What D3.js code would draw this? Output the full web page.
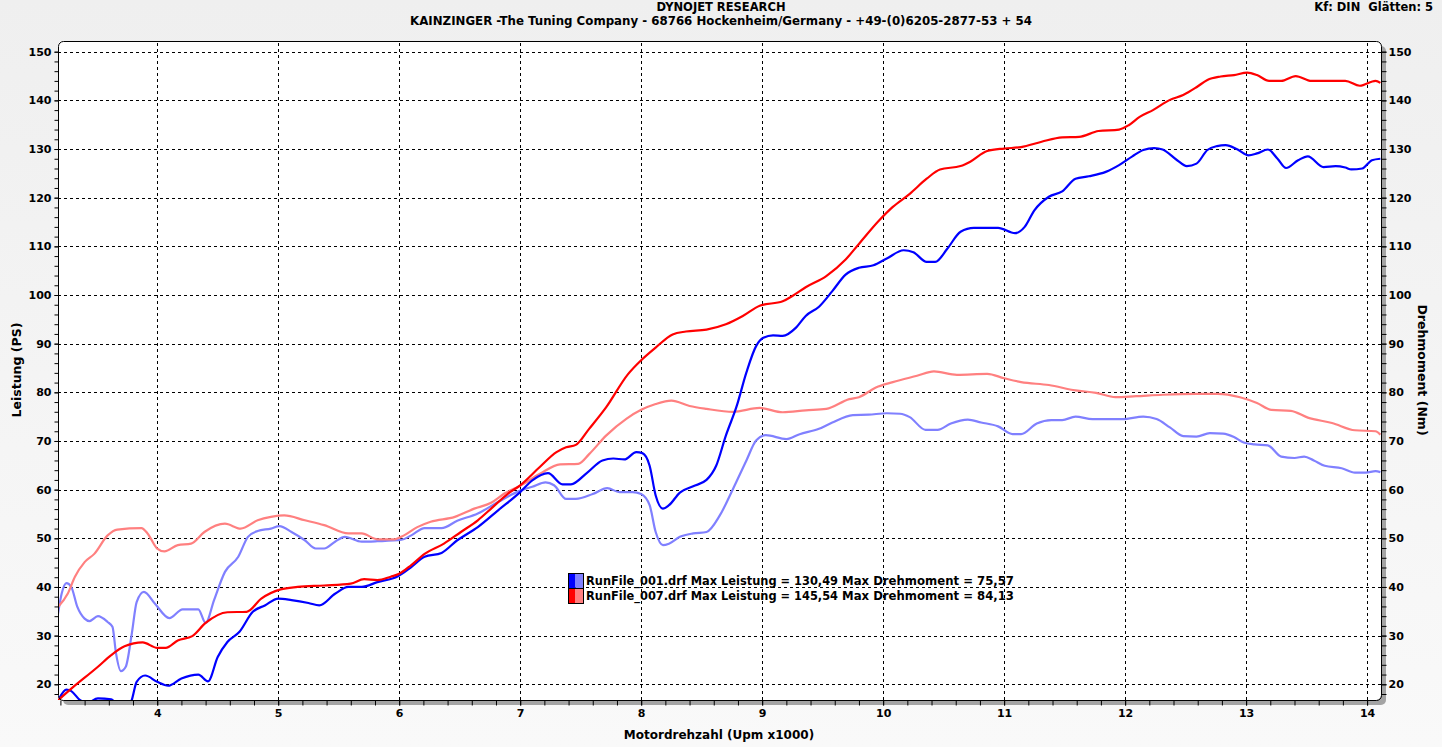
<!DOCTYPE html>
<html>
<head>
<meta charset="utf-8">
<script src="https://cdn.jsdelivr.net/npm/d3@7"></script>
<style>
  html, body { margin: 0; padding: 0; background: #f2f2f2; }
  svg { display: block; }
  text { font-family: 'DejaVu Sans', Verdana, sans-serif; font-weight: bold; fill: #000; }
</style>
</head>
<body>
<svg id="chart" width="1442" height="747"></svg>
<script>
// Motordrehzahl in 1000 Upm, Leistung in PS, Drehmoment in Nm
let yTicks = [20, 30, 40, 50, 60, 70, 80, 90, 100, 110, 120, 130, 140, 150];
let xTicks = [4, 5, 6, 7, 8, 9, 10, 11, 12, 13, 14];

let run001Name = 'RunFile_001.drf';
let run007Name = 'RunFile_007.drf';
let run001MaxPower = '130,49';
let run001MaxTorque = '75,57';
let run007MaxPower = '145,54';
let run007MaxTorque = '84,13';

let run001PowerRpm = [3.19,3.25,3.29,3.36,3.42,3.51,3.62,3.68,3.75,3.79,3.83,3.90,4.0,4.09,4.20,4.34,4.42,4.50,4.58,4.68,4.79,4.89,5.0,5.11,5.25,5.34,5.47,5.58,5.69,5.82,5.99,6.10,6.21,6.35,6.48,6.65,6.82,7.0,7.10,7.23,7.35,7.42,7.55,7.68,7.77,7.86,7.96,8.01,8.07,8.12,8.18,8.23,8.32,8.43,8.54,8.62,8.70,8.79,8.87,8.95,9.01,9.09,9.17,9.28,9.36,9.47,9.58,9.69,9.80,9.92,10.03,10.17,10.25,10.36,10.43,10.53,10.64,10.75,10.95,11.09,11.17,11.25,11.37,11.48,11.59,11.70,11.84,11.95,12.06,12.15,12.24,12.31,12.43,12.51,12.59,12.68,12.76,12.83,12.93,13.02,13.09,13.18,13.26,13.33,13.43,13.51,13.64,13.74,13.82,13.87,13.96,14.04,14.11];
let run001Power = [17.1,18.9,18.6,16.8,16.2,17.1,16.9,15.5,15.0,16.8,20.5,21.8,20.5,19.7,21.2,22.0,20.6,25.6,28.7,30.8,34.9,36.2,37.6,37.3,36.7,36.2,38.6,40.0,40.0,41.0,42.2,44.1,46.2,47.0,49.6,52.3,55.8,59.5,61.9,63.4,61.1,61.1,63.4,66.0,66.4,66.2,67.7,67.5,64.9,58.8,56.1,56.8,59.4,60.7,62.0,64.9,71.1,77.2,84.1,89.5,91.2,91.7,91.6,93.3,95.7,97.6,100.8,104.2,105.6,106.1,107.5,109.2,108.8,106.8,106.8,109.5,113.0,113.8,113.8,112.7,114.0,117.4,120.2,121.3,123.9,124.4,125.3,126.7,128.5,129.8,130.2,129.9,127.7,126.5,127.0,129.8,130.6,130.8,129.9,128.7,129.1,129.9,128.0,126.1,127.7,128.5,126.3,126.5,126.2,125.8,126.0,127.7,128.0];

let run007PowerRpm = [3.18,3.29,3.51,3.62,3.73,3.88,4.0,4.07,4.17,4.29,4.40,4.58,4.74,4.86,5.02,5.16,5.38,5.60,5.71,5.82,5.93,6.0,6.10,6.21,6.37,6.51,6.65,6.76,6.90,7.0,7.16,7.30,7.38,7.46,7.57,7.71,7.89,8.0,8.12,8.26,8.37,8.54,8.70,8.84,8.98,9.17,9.25,9.36,9.53,9.69,9.80,9.97,10.08,10.22,10.36,10.47,10.64,10.72,10.86,11.0,11.14,11.31,11.48,11.62,11.78,11.95,12.03,12.12,12.23,12.37,12.48,12.59,12.68,12.79,12.90,13.01,13.09,13.19,13.29,13.41,13.54,13.82,13.94,14.07,14.11];
let run007Power = [16.7,19.1,23.6,26.0,27.8,28.6,27.5,27.5,29.0,29.9,32.6,34.8,34.9,37.6,39.5,40.0,40.3,40.7,41.6,41.4,42.1,42.7,44.5,46.8,48.9,51.3,53.7,56.1,59.2,60.9,64.6,67.7,68.7,69.2,72.5,76.9,83.7,86.6,89.2,91.9,92.5,92.9,94.0,95.7,97.8,98.7,99.8,101.6,103.9,107.3,110.5,115.4,118.1,120.8,123.9,125.8,126.5,127.4,129.6,130.1,130.4,131.5,132.4,132.5,133.7,134.0,134.9,136.6,138.0,140.1,141.1,142.7,144.2,144.9,145.2,145.7,145.2,144.0,144.0,145.0,144.0,144.0,143.0,144.0,143.6];

let run001TorqueRpm = [3.18,3.21,3.25,3.29,3.34,3.40,3.44,3.51,3.59,3.63,3.66,3.70,3.74,3.79,3.83,3.89,3.98,4.10,4.21,4.34,4.40,4.47,4.56,4.67,4.75,4.83,4.94,5.01,5.11,5.22,5.31,5.38,5.47,5.55,5.69,5.82,6.02,6.10,6.21,6.35,6.48,6.65,6.82,7.0,7.10,7.21,7.28,7.38,7.46,7.60,7.72,7.82,7.93,8.0,8.07,8.12,8.18,8.23,8.32,8.43,8.54,8.65,8.76,8.87,8.95,9.03,9.20,9.31,9.47,9.58,9.75,9.88,10.03,10.14,10.22,10.35,10.45,10.56,10.70,10.81,10.95,11.07,11.14,11.27,11.39,11.48,11.59,11.73,11.98,12.15,12.26,12.37,12.48,12.59,12.70,12.81,12.90,12.98,13.07,13.18,13.29,13.40,13.48,13.56,13.65,13.79,13.90,13.99,14.07,14.11];
let run001Torque = [34.5,38.6,40.8,40.0,35.9,33.5,33.0,34.0,32.8,31.8,26.3,22.7,23.6,30.4,36.9,39.0,36.6,33.6,35.4,35.4,32.6,37.3,43.1,46.2,50.3,51.5,52.0,52.5,51.3,49.6,47.9,47.9,49.3,50.3,49.3,49.4,49.7,50.6,52.1,52.1,53.6,55.1,57.5,59.8,60.6,61.5,60.9,58.1,58.1,59.1,60.3,59.5,59.5,59.1,56.8,51.3,48.6,48.9,50.3,51.0,51.3,54.7,60.2,66.0,70.1,71.2,70.4,71.4,72.5,73.8,75.3,75.4,75.7,75.6,74.9,72.3,72.3,73.6,74.4,73.8,73.0,71.4,71.4,73.6,74.3,74.3,75.0,74.5,74.5,75.0,74.5,72.8,71.0,70.9,71.6,71.5,70.8,69.7,69.3,69.1,66.8,66.5,66.8,66.0,64.9,64.4,63.5,63.5,63.8,63.6];

let run007TorqueRpm = [3.18,3.26,3.32,3.40,3.48,3.59,3.67,3.87,3.92,4.0,4.06,4.17,4.28,4.39,4.56,4.69,4.83,4.94,5.05,5.22,5.38,5.58,5.69,5.82,5.96,6.04,6.15,6.26,6.46,6.62,6.76,6.87,7.0,7.16,7.33,7.48,7.57,7.71,7.88,8.0,8.12,8.25,8.40,8.54,8.76,8.98,9.17,9.36,9.53,9.72,9.80,9.94,10.08,10.28,10.42,10.61,10.86,11.0,11.14,11.37,11.59,11.76,11.92,12.09,12.31,12.59,12.76,12.95,13.09,13.21,13.37,13.51,13.71,13.90,14.07,14.11];
let run007Torque = [35.9,38.6,42.1,45.1,46.8,50.6,51.8,52.1,51.0,47.9,47.3,48.6,48.9,51.3,53.0,52.0,53.7,54.4,54.7,53.7,52.7,51.0,51.0,49.8,49.8,50.6,52.3,53.4,54.4,56.1,57.3,59.2,60.8,63.2,65.2,65.3,67.3,71.1,74.6,76.4,77.6,78.3,77.2,76.6,76.0,76.8,75.9,76.3,76.6,78.6,79.0,81.0,82.1,83.4,84.3,83.6,83.8,82.9,82.1,81.5,80.4,79.9,79.0,79.2,79.5,79.7,79.7,79.0,77.8,76.4,76.2,74.8,73.7,72.2,72.0,71.3];

let svg = d3.select('#chart');

let plotLeft = 58, plotRight = 1381, plotTop = 41, plotBottom = 700;

let x = d3.scaleLinear().domain([3.18, 14.115]).range([plotLeft, plotRight]);
let y = d3.scaleLinear().domain([16.77, 152.2]).range([plotBottom, plotTop]);

// background
let defs = svg.append('defs');
let grad = defs.append('linearGradient').attr('id', 'bg').attr('x1', 0).attr('y1', 0).attr('x2', 0).attr('y2', 1);
grad.append('stop').attr('offset', '0%').attr('stop-color', '#efefef');
grad.append('stop').attr('offset', '100%').attr('stop-color', '#f9f9f9');
svg.append('rect').attr('width', 1442).attr('height', 747).attr('fill', 'url(#bg)');

defs.append('clipPath').attr('id', 'plotClip')
	.append('rect').attr('x', plotLeft).attr('y', plotTop).attr('width', plotRight - plotLeft).attr('height', plotBottom - plotTop);

// frame with shadow
svg.append('rect')
	.attr('x', plotLeft + 5).attr('y', plotTop + 5)
	.attr('width', plotRight - plotLeft).attr('height', plotBottom - plotTop)
	.attr('rx', 5).attr('fill', '#a4a4a4');
svg.append('rect')
	.attr('x', plotLeft).attr('y', plotTop)
	.attr('width', plotRight - plotLeft).attr('height', plotBottom - plotTop)
	.attr('rx', 5).attr('fill', '#fff');

// grid
let grid = svg.append('g').attr('stroke', '#000').attr('stroke-width', 1).attr('stroke-dasharray', '3,3');
grid.selectAll('.hg').data(yTicks).enter().append('line')
	.attr('x1', plotLeft).attr('x2', plotRight)
	.attr('y1', (d) => Math.round(y(d)) + 0.5).attr('y2', (d) => Math.round(y(d)) + 0.5);
grid.selectAll('.vg').data(xTicks).enter().append('line')
	.attr('y1', plotTop + 2).attr('y2', plotBottom)
	.attr('x1', (d) => Math.round(x(d)) + 0.5).attr('x2', (d) => Math.round(x(d)) + 0.5);

// curves
let line = d3.line()
	.x((d) => x(d[0]))
	.y((d) => y(d[1]))
	.curve(d3.curveMonotoneX);

let series = [
	{ rpm: run001TorqueRpm, vals: run001Torque, color: '#8080ff' },
	{ rpm: run007TorqueRpm, vals: run007Torque, color: '#ff8080' },
	{ rpm: run001PowerRpm, vals: run001Power, color: '#0000ff' },
	{ rpm: run007PowerRpm, vals: run007Power, color: '#ff0000' }
];

let curves = svg.append('g').attr('clip-path', 'url(#plotClip)');
series.forEach((s) => {
	curves.append('path')
		.datum(s.rpm.map((r, i) => [r, s.vals[i]]))
		.attr('fill', 'none')
		.attr('stroke', s.color)
		.attr('stroke-width', 2.2)
		.attr('stroke-linejoin', 'round')
		.attr('d', line);
});

// frame border on top of everything
svg.append('rect')
	.attr('x', plotLeft + 0.5).attr('y', plotTop + 0.5)
	.attr('width', plotRight - plotLeft).attr('height', plotBottom - plotTop)
	.attr('rx', 5).attr('fill', 'none').attr('stroke', '#000').attr('stroke-width', 1);

// axes
let minorY = d3.range(18, 152, 2);
let minorX = d3.range(3.2, 14.12, 0.2);

let leftAxis = svg.append('g').attr('transform', 'translate(' + (plotLeft + 0.5) + ',0)')
	.call(d3.axisLeft(y).tickValues(minorY).tickSize(4).tickFormat(''));
leftAxis.append('g').call(d3.axisLeft(y).tickValues(yTicks).tickSize(4).tickPadding(3));

let rightAxis = svg.append('g').attr('transform', 'translate(' + (plotRight + 0.5) + ',0)')
	.call(d3.axisRight(y).tickValues(minorY).tickSize(5).tickFormat(''));
rightAxis.append('g').call(d3.axisRight(y).tickValues(yTicks).tickSize(5).tickPadding(2));

let bottomAxis = svg.append('g').attr('transform', 'translate(0,' + (plotBottom + 0.5) + ')')
	.call(d3.axisBottom(x).tickValues(minorX).tickSize(5).tickFormat(''));
bottomAxis.append('g').call(d3.axisBottom(x).tickValues(xTicks).tickSize(5).tickPadding(4));

svg.selectAll('.domain').remove();
svg.selectAll('.tick line').attr('stroke', '#000');
svg.selectAll('.tick text')
	.attr('font-family', "'DejaVu Sans', Verdana, sans-serif")
	.attr('font-weight', 'bold')
	.attr('font-size', 11)
	.attr('fill', '#000');

// titles
svg.append('text').attr('x', 721).attr('y', 11).attr('text-anchor', 'middle')
	.attr('font-size', 11.5).text('DYNOJET RESEARCH');
svg.append('text').attr('x', 721).attr('y', 25).attr('text-anchor', 'middle')
	.attr('font-size', 11.8)
	.text('KAINZINGER -The Tuning Company - 68766 Hockenheim/Germany - +49-(0)6205-2877-53 + 54');
svg.append('text').attr('x', 1433).attr('y', 11).attr('text-anchor', 'end')
	.attr('font-size', 11.5).attr('xml:space', 'preserve').text('Kf: DIN  Glätten: 5');

svg.append('text').attr('x', 719).attr('y', 739).attr('text-anchor', 'middle')
	.attr('font-size', 12).text('Motordrehzahl (Upm x1000)');
svg.append('text').attr('transform', 'translate(21,370) rotate(-90)').attr('text-anchor', 'middle')
	.attr('font-size', 12.5).text('Leistung (PS)');
svg.append('text').attr('transform', 'translate(1418,370) rotate(90)').attr('text-anchor', 'middle')
	.attr('font-size', 12.5).text('Drehmoment (Nm)');

// legend
let legendRows = [
	{ name: run001Name, power: run001MaxPower, torque: run001MaxTorque, dark: '#0000ff', light: '#8080ff' },
	{ name: run007Name, power: run007MaxPower, torque: run007MaxTorque, dark: '#ff0000', light: '#ff8080' }
];
let legend = svg.append('g').attr('transform', 'translate(568,573)');
legendRows.forEach((row, i) => {
	let g = legend.append('g').attr('transform', 'translate(0,' + i * 15 + ')');
	g.append('rect').attr('x', 0.5).attr('y', 0.5).attr('width', 7).attr('height', 15).attr('fill', row.dark);
	g.append('rect').attr('x', 7.5).attr('y', 0.5).attr('width', 8).attr('height', 15).attr('fill', row.light);
	g.append('rect').attr('x', 0.5).attr('y', 0.5).attr('width', 15).attr('height', 15)
		.attr('fill', 'none').attr('stroke', '#000');
	g.append('text').attr('x', 18).attr('y', 12).attr('font-size', 11.5)
		.attr('textLength', 252).attr('lengthAdjust', 'spacingAndGlyphs')
		.text(row.name + ' Max Leistung = ' + row.power);
	g.append('text').attr('x', 274).attr('y', 12).attr('font-size', 11.5)
		.attr('textLength', 172).attr('lengthAdjust', 'spacingAndGlyphs')
		.text('Max Drehmoment = ' + row.torque);
});
</script>
</body>
</html>
